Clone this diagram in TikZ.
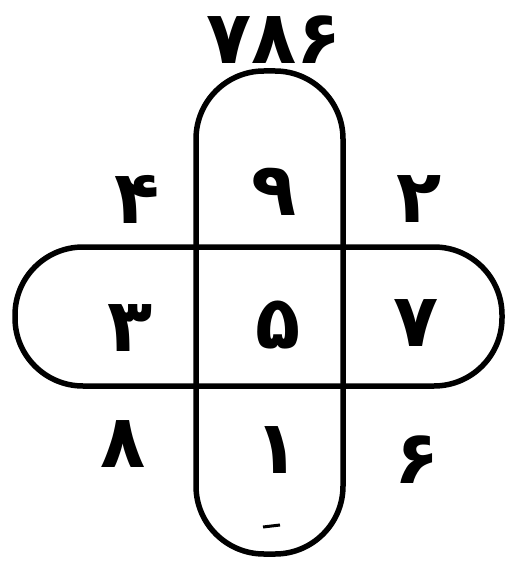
\documentclass[tikz,border=0pt]{standalone}
\usepackage{fontspec}
\newfontfamily\urdufont[Script=Arabic,Language=Urdu]{DejaVu Sans}
\usetikzlibrary{positioning}
\tikzset{
  stadium/.style={draw=black, line width=5.5pt, rounded corners=68pt},
  digit/.style={font=\urdufont\bfseries\fontsize{74}{74}\selectfont, inner sep=0pt, text=black},
}
\begin{document}
\begin{tikzpicture}[x=1pt,y=-1pt]
\useasboundingbox[fill=white] (0,0) rectangle (505,561);
% vertical band
\draw[stadium] (196,71) rectangle (343,554);
% horizontal band
\draw[stadium] (15,247) rectangle (502,386);
% labels
\node[digit] (top) at (274,40) {۷۸۶};
\node[digit] (n4) at (137,199) {۴};
\node[digit] (n9) at (274,192) {۹};
\node[digit] (n2) at (419,199) {۲};
\node[digit] (n3) at (130,328) {۳};
\node[digit] (n5) at (278,325) {۵};
\node[digit] (n7) at (416,323) {۷};
\node[digit] (n8) at (123,444) {۸};
\node[digit] (n1) at (277,450) {۱};
\node[digit] (n6) at (417,460) {۶};
% stray marks
\coordinate (d1) at (263,527);
\coordinate (d2) at (280,525);
\draw[line width=3pt] (d1) -- (d2);
\end{tikzpicture}
\end{document}
